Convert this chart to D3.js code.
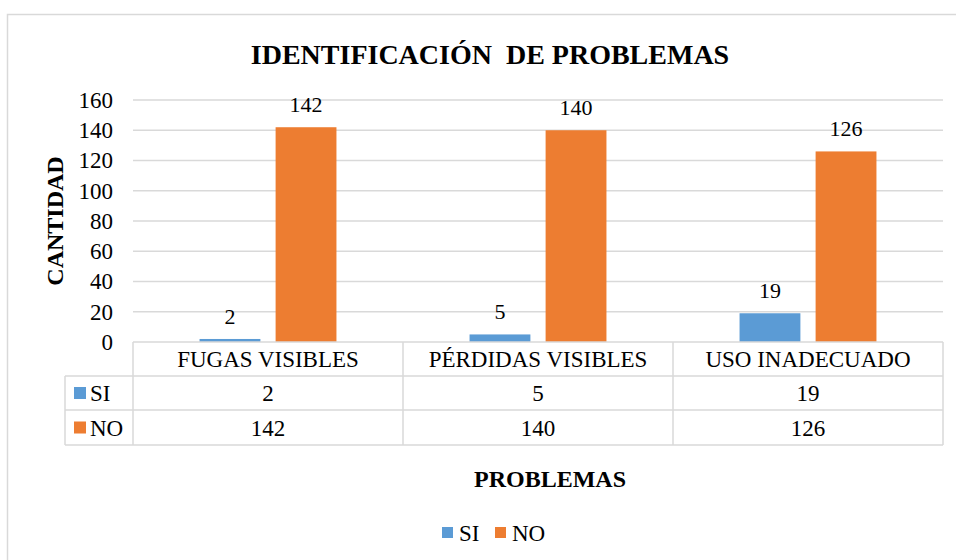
<!DOCTYPE html>
<html>
<head>
<meta charset="utf-8">
<script src="https://cdn.jsdelivr.net/npm/d3@7"></script>
<style>
  html, body { margin: 0; padding: 0; background: #fff; }
  svg { display: block; }
  svg text { font-family: "Liberation Serif", "Times New Roman", serif; }
</style>
</head>
<body>
<svg id="chart" width="956" height="560"></svg>
<script>
// Chart data
const categories = ["FUGAS VISIBLES", "PÉRDIDAS VISIBLES", "USO INADECUADO"];
const seriesNames = ["SI", "NO"];
const siValues = [2, 5, 19];
const noValues = [142, 140, 126];
const yTicks = [0, 20, 40, 60, 80, 100, 120, 140, 160];

const colors = { SI: "#5b9bd5", NO: "#ed7d31" };
const gridColor = "#d9d9d9";
const series = [
  { name: "SI", values: siValues },
  { name: "NO", values: noValues }
];

const svg = d3.select("#chart");

// Plot area
const plot = { left: 133, right: 943, top: 100, bottom: 342 };

const x = d3.scaleBand().domain(categories).range([plot.left, plot.right]).padding(0);
const xInner = d3.scaleBand().domain(seriesNames).range([0, x.bandwidth()])
  .paddingInner(0.2).paddingOuter(0.875);
const y = d3.scaleLinear().domain([0, 160]).range([plot.bottom, plot.top]);

// Outer chart frame
svg.append("rect")
  .attr("x", 7.5).attr("y", 14.5).attr("width", 960).attr("height", 560)
  .attr("fill", "none").attr("stroke", gridColor).attr("stroke-width", 1.5);

// Title
svg.append("text")
  .attr("x", 490).attr("y", 64)
  .attr("text-anchor", "middle")
  .attr("font-size", 28).attr("font-weight", "bold")
  .attr("fill", "#000")
  .style("white-space", "pre")
  .text("IDENTIFICACIÓN  DE PROBLEMAS");

// Gridlines and y-axis labels
const yAxis = d3.axisLeft(y).tickValues(yTicks).tickSize(0).tickPadding(20);
const yG = svg.append("g").attr("transform", `translate(${plot.left},0)`).call(yAxis);
yG.attr("font-family", null);
yG.select(".domain").remove();
yG.selectAll("text")
  .attr("font-size", 23).attr("fill", "#000");

svg.append("g").selectAll("line")
  .data(yTicks.filter(d => d > 0))
  .join("line")
  .attr("x1", plot.left).attr("x2", plot.right)
  .attr("y1", d => y(d)).attr("y2", d => y(d))
  .attr("stroke", gridColor).attr("stroke-width", 1.5);

// Y-axis title
svg.append("text")
  .attr("transform", `translate(63,${(plot.top + plot.bottom) / 2}) rotate(-90)`)
  .attr("text-anchor", "middle")
  .attr("font-size", 24).attr("font-weight", "bold")
  .text("CANTIDAD");

// Bars
const groups = svg.append("g").selectAll("g")
  .data(series)
  .join("g")
  .attr("fill", d => colors[d.name]);

groups.selectAll("rect")
  .data(s => s.values.map((v, i) => ({ name: s.name, cat: categories[i], value: v })))
  .join("rect")
  .attr("x", d => x(d.cat) + xInner(d.name))
  .attr("width", xInner.bandwidth())
  .attr("y", d => y(d.value))
  .attr("height", d => y(0) - y(d.value));

// Value labels
groups.selectAll("text")
  .data(s => s.values.map((v, i) => ({ name: s.name, cat: categories[i], value: v })))
  .join("text")
  .attr("x", d => x(d.cat) + xInner(d.name) + xInner.bandwidth() / 2)
  .attr("y", d => y(d.value) - 15)
  .attr("text-anchor", "middle")
  .attr("font-size", 22).attr("fill", "#000")
  .text(d => d.value);

// Data table under the axis
const rowTops = [342, 376, 410, 445];
const legendLeft = 65;
const table = svg.append("g");
const line = (x1, y1, x2, y2) => table.append("line")
  .attr("x1", x1).attr("y1", y1).attr("x2", x2).attr("y2", y2)
  .attr("stroke", gridColor).attr("stroke-width", 1.5);

line(plot.left, rowTops[0], plot.right, rowTops[0]);
line(legendLeft, rowTops[1], plot.right, rowTops[1]);
line(legendLeft, rowTops[2], plot.right, rowTops[2]);
line(legendLeft, rowTops[3], plot.right, rowTops[3]);
line(legendLeft, rowTops[1], legendLeft, rowTops[3]);
line(plot.left, rowTops[0], plot.left, rowTops[3]);
categories.forEach(c => line(x(c) + x.bandwidth(), rowTops[0], x(c) + x.bandwidth(), rowTops[3]));

// Category header row
table.selectAll("text.cat")
  .data(categories)
  .join("text")
  .attr("class", "cat")
  .attr("x", d => x(d) + x.bandwidth() / 2)
  .attr("y", (rowTops[0] + rowTops[1]) / 2 + 8)
  .attr("text-anchor", "middle")
  .attr("font-size", 23)
  .text(d => d);

// Series rows
series.forEach((s, si) => {
  const mid = (rowTops[si + 1] + rowTops[si + 2]) / 2;
  table.append("rect")
    .attr("x", 74).attr("y", mid - 6).attr("width", 12).attr("height", 12)
    .attr("fill", colors[s.name]);
  table.append("text")
    .attr("x", 90).attr("y", mid + 8)
    .attr("font-size", 23)
    .text(s.name);
  table.selectAll(null)
    .data(s.values)
    .join("text")
    .attr("x", (d, i) => x(categories[i]) + x.bandwidth() / 2)
    .attr("y", mid + 8)
    .attr("text-anchor", "middle")
    .attr("font-size", 23)
    .text(d => d);
});

// X-axis title
svg.append("text")
  .attr("x", 550).attr("y", 487)
  .attr("text-anchor", "middle")
  .attr("font-size", 24).attr("font-weight", "bold")
  .text("PROBLEMAS");

// Legend
const legend = svg.append("g").attr("transform", "translate(442,527)");
const legendItems = legend.selectAll("g")
  .data(seriesNames)
  .join("g")
  .attr("transform", (d, i) => `translate(${i * 53},0)`);
legendItems.append("rect")
  .attr("width", 11).attr("height", 11)
  .attr("fill", d => colors[d]);
legendItems.append("text")
  .attr("x", 17).attr("y", 14)
  .attr("font-size", 23)
  .text(d => d);
</script>
</body>
</html>
